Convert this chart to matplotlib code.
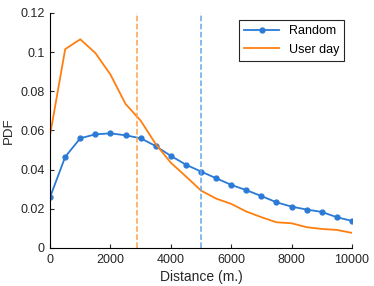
import matplotlib.pyplot as plt
import numpy as np

plt.rcParams['font.family'] = ['Liberation Sans', 'DejaVu Sans']

# distances (m.)
distance = np.arange(0, 10001, 500)

# PDF values
random_pdf = [0.026, 0.0465, 0.056, 0.058, 0.0585, 0.0575, 0.056, 0.052, 0.047,
              0.0425, 0.039, 0.0356, 0.0322, 0.0295, 0.0265, 0.0233, 0.0211,
              0.0196, 0.0184, 0.0157, 0.0138]
userday_pdf = [0.0578, 0.1015, 0.1065, 0.0995, 0.0885, 0.0735, 0.065, 0.053,
               0.0435, 0.0365, 0.0293, 0.0252, 0.0225, 0.0186, 0.0157, 0.0131,
               0.0126, 0.0106, 0.0097, 0.0092, 0.0077]

# mean distances (vertical markers)
userday_mean = 2870
random_mean = 5000

fig = plt.figure(figsize=(3.74, 2.86), dpi=100)
ax = fig.add_axes([0.134, 0.133, 0.807, 0.822])

ax.plot(distance, random_pdf, color='#2a7ad6', marker='o', markersize=3.5,
        linewidth=1.3, label='Random')
ax.plot(distance, userday_pdf, color='#ff7f0e', linewidth=1.3, label='User day')
ax.axvline(userday_mean, color='#ffa04a', linestyle='--', linewidth=1.1)
ax.axvline(random_mean, color='#6aa6ea', linestyle='--', linewidth=1.1)

ax.set_xlim(0, 10000)
ax.set_ylim(0, 0.12)
ax.set_xticks([0, 2000, 4000, 6000, 8000, 10000])
ax.set_yticks([0, 0.02, 0.04, 0.06, 0.08, 0.1, 0.12])
ax.set_yticklabels(['0', '0.02', '0.04', '0.06', '0.08', '0.1', '0.12'])
ax.tick_params(labelsize=9, length=3, width=0.8, direction='in',
               colors='#262626', pad=4)
ax.set_xlabel('Distance (m.)', fontsize=10, color='#262626', labelpad=3)
ax.set_ylabel('PDF', fontsize=9.5, color='#262626', labelpad=4)
ax.spines['top'].set_visible(False)
ax.spines['right'].set_visible(False)

leg = ax.legend(loc='upper right', fontsize=9, fancybox=False, framealpha=1,
                edgecolor='#262626', handlelength=2.8, borderaxespad=0.6)
leg.get_frame().set_linewidth(0.8)

plt.savefig('out.png', dpi=100)
